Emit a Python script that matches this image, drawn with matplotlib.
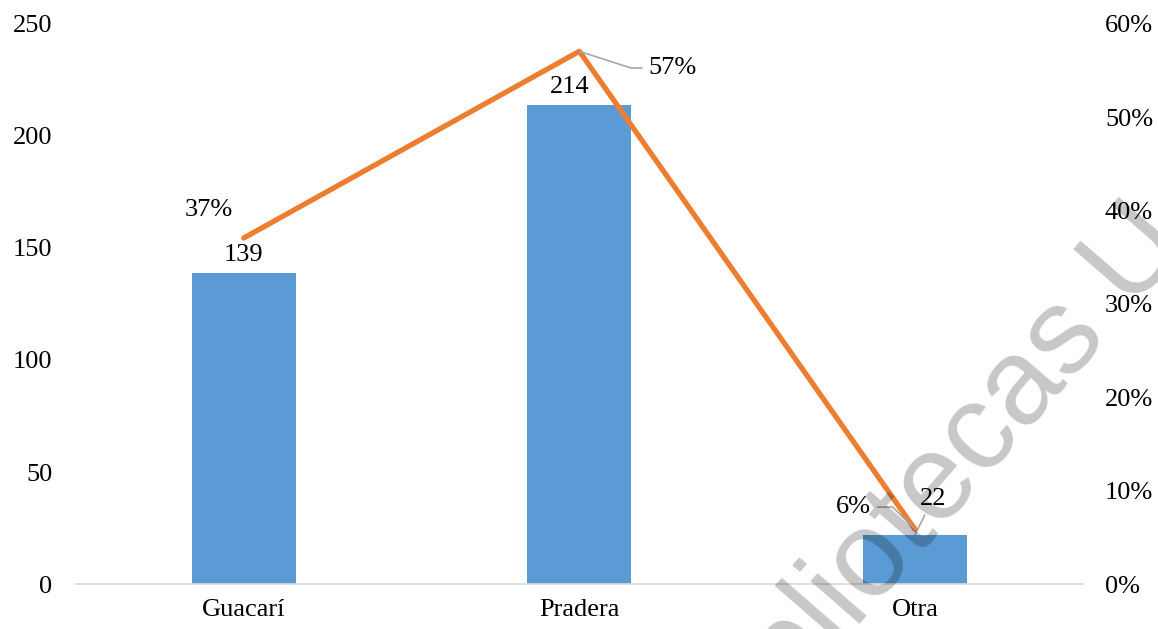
import matplotlib
matplotlib.use('Agg')
import matplotlib.pyplot as plt
from matplotlib.ticker import PercentFormatter

categories = ['Guacarí', 'Pradera', 'Otra']
counts = [139, 214, 22]
shares = [139 / 375, 214 / 375, 22 / 375]
share_labels = ['37%', '57%', '6%']
left_ticks = [0, 50, 100, 150, 200, 250]
right_ticks = [0, 0.1, 0.2, 0.3, 0.4, 0.5, 0.6]

plt.rcParams['font.family'] = ['Liberation Serif', 'DejaVu Serif']
fs = 19

fig = plt.figure(figsize=(11.58, 6.29), dpi=100)
ax = fig.add_axes([0.0656, 0.0715, 0.8694, 0.8905])
ax2 = ax.twinx()

x = list(range(len(categories)))
bars = ax.bar(x, counts, width=0.31, color='#5B9BD5', zorder=2)
ax.set_xlim(-0.5, 2.5)
ax.set_ylim(0, 250)
ax.set_yticks(left_ticks)
ax.set_xticks(x)
ax.set_xticklabels(categories)

ax2.plot(x, shares, color='#ED7D31', linewidth=3.8, solid_capstyle='round', zorder=3)
ax2.set_ylim(0, 0.6)
ax2.set_yticks(right_ticks)
ax2.yaxis.set_major_formatter(PercentFormatter(1.0, decimals=0))

for a in (ax, ax2):
    for s in a.spines.values():
        s.set_visible(False)
    a.tick_params(length=0, labelsize=fs, colors='black')
ax.spines['bottom'].set_visible(True)
ax.spines['bottom'].set_color('#d9d9d9')
ax.spines['bottom'].set_linewidth(1.2)
ax.tick_params(axis='x', pad=11)
ax.tick_params(axis='y', pad=17)
ax2.tick_params(axis='y', pad=16)

# count labels
count_offsets = [(0, 5), (-7, 5), (13, 18)]
for i, (xi, c) in enumerate(zip(x, counts)):
    dx, dy = count_offsets[i]
    if i == 2:
        ax.annotate(str(c), (xi, c), xytext=(dx, dy), textcoords='offset points',
                    ha='center', va='bottom', fontsize=fs,
                    arrowprops=dict(arrowstyle='-', color='#a6a6a6', lw=1.2,
                                    shrinkA=2, shrinkB=0))
    else:
        ax.annotate(str(c), (xi, c), xytext=(dx, dy), textcoords='offset points',
                    ha='center', va='bottom', fontsize=fs)

# percentage labels
ax2.annotate(share_labels[0], (x[0], shares[0]), xytext=(-25, 12), textcoords='offset points',
             ha='center', va='bottom', fontsize=fs)
ax2.annotate(share_labels[1], (x[1], shares[1]), xytext=(50, -12), textcoords='offset points',
             ha='left', va='center', fontsize=fs,
             arrowprops=dict(arrowstyle='-', color='#a6a6a6', lw=1.2, shrinkA=3, shrinkB=0,
                             connectionstyle='angle,angleA=0,angleB=-18,rad=0'))
ax2.annotate(share_labels[2], (x[2], shares[2]), xytext=(-32, 16), textcoords='offset points',
             ha='right', va='center', fontsize=fs,
             arrowprops=dict(arrowstyle='-', color='#a6a6a6', lw=1.2, shrinkA=3, shrinkB=0,
                             connectionstyle='angle,angleA=0,angleB=-45,rad=0'))

# watermark
fig.text(0.623, -0.245, 'Bibliotecas U', fontsize=88, family='Liberation Sans',
         color='black', alpha=0.22, rotation=49, rotation_mode='anchor',
         ha='left', va='baseline', zorder=10)

fig.savefig('out.png', dpi=100)
